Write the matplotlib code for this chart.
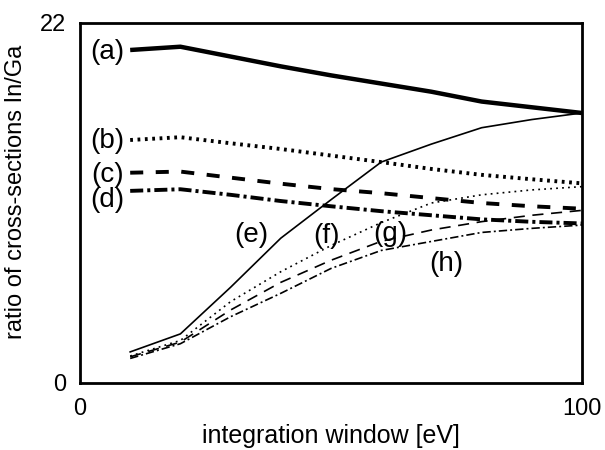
import matplotlib
matplotlib.use("Agg")
import matplotlib.pyplot as plt

plt.rcParams['font.family'] = ['Liberation Sans', 'DejaVu Sans']
plt.rcParams['lines.scale_dashes'] = False

# integration window [eV]
window = [10, 20, 30, 40, 50, 60, 70, 80, 90, 100]

# ratio of cross-sections In/Ga
ratio_a = [20.35, 20.55, 19.95, 19.35, 18.8, 18.3, 17.8, 17.2, 16.85, 16.5]
ratio_b = [14.85, 15.02, 14.65, 14.3, 13.9, 13.5, 13.08, 12.72, 12.45, 12.2]
ratio_c = [12.85, 12.92, 12.55, 12.18, 11.85, 11.6, 11.3, 11.0, 10.8, 10.65]
ratio_d = [11.74, 11.84, 11.5, 11.12, 10.8, 10.5, 10.25, 10.0, 9.85, 9.75]
ratio_e = [1.9, 3.0, 5.85, 8.85, 11.2, 13.5, 14.6, 15.6, 16.1, 16.5]
ratio_f = [1.65, 2.6, 4.97, 6.8, 8.4, 9.8, 11.0, 11.5, 11.8, 12.0]
ratio_g = [1.6, 2.5, 4.46, 6.15, 7.5, 8.66, 9.35, 9.86, 10.25, 10.55]
ratio_h = [1.5, 2.4, 4.05, 5.48, 7.0, 8.1, 8.65, 9.2, 9.45, 9.65]

curve_labels = ['(a)', '(b)', '(c)', '(d)', '(e)', '(f)', '(g)', '(h)']
label_x = [5.5, 5.5, 5.5, 5.5, 34.2, 49.1, 61.9, 72.9]
label_y = [20.2, 14.8, 12.7, 11.2, 9.05, 9.0, 9.1, 7.3]

fig = plt.figure(figsize=(6.05, 4.5), dpi=100)
ax = fig.add_axes([0.1322, 0.1489, 0.8298, 0.8000])

# thick curves (a)-(d)
ax.plot(window, ratio_a, color='black', lw=3.2, solid_capstyle='butt')
ax.plot(window, ratio_b, color='black', lw=2.8, linestyle=(0, (2.0, 3.3)),
        dash_capstyle='butt')
ax.plot(window, ratio_c, color='black', lw=2.8, linestyle=(0, (9.4, 9.0)),
        dash_capstyle='butt')
ax.plot(window, ratio_d, color='black', lw=2.8,
        linestyle=(0, (9.4, 2.9, 2.2, 2.9)), dash_capstyle='butt')

# thin curves (e)-(h)
ax.plot(window, ratio_e, color='black', lw=1.2)
ax.plot(window, ratio_f, color='black', lw=1.2, linestyle=(0, (1.3, 3.0)))
ax.plot(window, ratio_g, color='black', lw=1.2, linestyle=(0, (8.0, 5.5)))
ax.plot(window, ratio_h, color='black', lw=1.2,
        linestyle=(0, (6.0, 2.2, 1.4, 2.2)))

for lab, tx, ty in zip(curve_labels, label_x, label_y):
    ax.text(tx, ty, lab, fontsize=20, ha='center', va='center')

ax.set_xlim(0, 100)
ax.set_ylim(0, 22)
ax.set_xticks([0, 100])
ax.set_yticks([0, 22])
ax.tick_params(length=0, labelsize=17)
ax.tick_params(axis='x', pad=11)
ax.tick_params(axis='y', pad=10)
for sp in ax.spines.values():
    sp.set_linewidth(2.0)

ax.set_xlabel('integration window [eV]', fontsize=18, labelpad=3)
ax.set_ylabel('ratio of cross-sections In/Ga', fontsize=17, labelpad=8)
ax.yaxis.set_label_coords(-0.105, 0.53)

fig.savefig('out.png', dpi=100)
